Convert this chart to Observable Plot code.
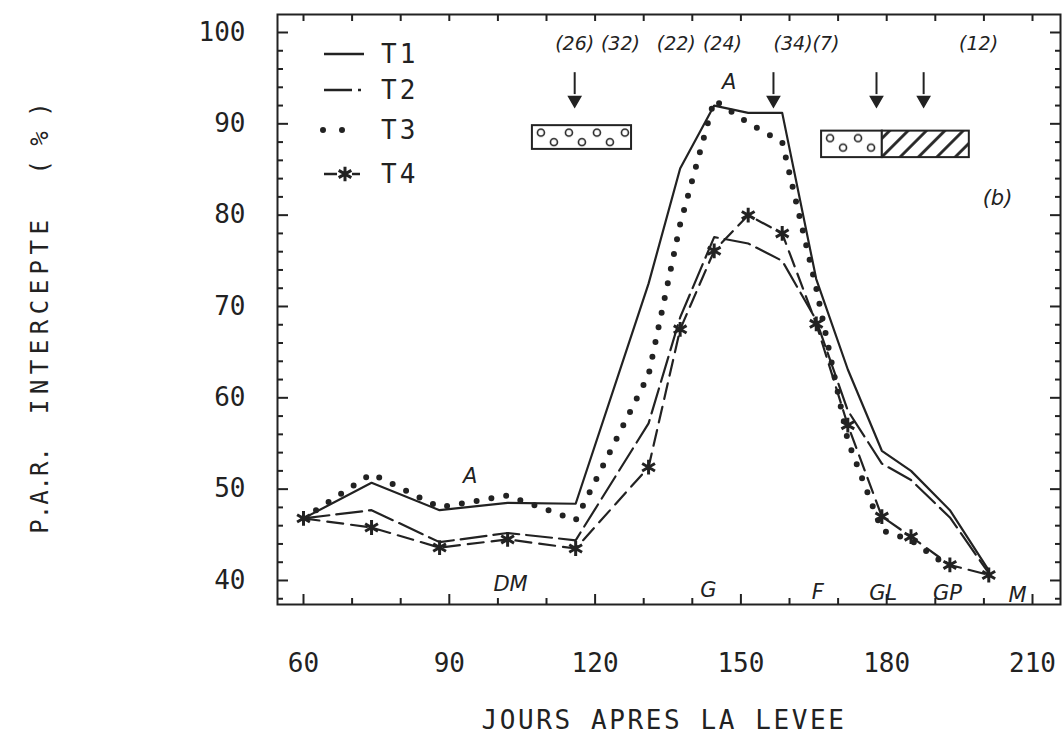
<!DOCTYPE html>
<html>
<head>
<meta charset="utf-8">
<script src="https://cdn.jsdelivr.net/npm/d3@7"></script>
<script src="https://cdn.jsdelivr.net/npm/@observablehq/plot@0.6"></script>
<style>
  html, body { margin: 0; padding: 0; background: #fff; }
  #wrap { position: relative; width: 1062px; height: 746px; overflow: hidden; color: #222;
          font-family: "DejaVu Sans Mono", monospace; }
  #chart { position: absolute; left: 0; top: 0; }
  .ytitle { position: absolute; left: 40px; top: 318px; transform: translate(-50%, -50%) rotate(-90deg);
            white-space: nowrap; font-size: 24px; }
  .xtitle { position: absolute; left: 664px; top: 720px; transform: translate(-50%, -50%);
            white-space: nowrap; font-size: 26px; letter-spacing: 2.6px; }
</style>
</head>
<body>
<div id="wrap">
  <div id="chart"></div>
  <div class="ytitle"><span>P.A.R.</span><span style="margin-left:33px;letter-spacing:5.5px">INTERCEPTE</span><span style="margin-left:40px">(&nbsp;%&nbsp;)</span></div>
  <div class="xtitle">JOURS APRES LA LEVEE</div>
</div>
<script>
// ---------------- data ----------------
const days = [60, 74, 88, 102, 116, 131, 137.5, 144.5, 151.5, 158.5, 165.5, 172, 179, 185, 193, 201];
const T1 = [46.8, 50.7, 47.7, 48.5, 48.4, 72.5, 85.1, 92.0, 91.2, 91.2, 73.0, 63.1, 54.2, 52.0, 47.7, 41.1];
const T2 = [46.8, 47.7, 44.2, 45.2, 44.4, 57.2, 68.8, 77.6, 76.9, 75.0, 68.5, 58.6, 52.8, 51.0, 46.9, 40.8];
const T3 = [46.8, 51.7, 48.0, 49.3, 46.6, 62.5, 79.0, 92.6, 90.1, 88.0, 72.0, 55.3, 45.5, 44.4, 41.4];
const T4 = [46.8, 45.8, 43.6, 44.5, 43.5, 52.4, 67.5, 76.1, 80.0, 78.0, 68.1, 57.0, 47.0, 44.8, 41.7, 40.6];
const seriesNames = ["T1", "T2", "T3", "T4"];

const xTickLabels = [60, 90, 120, 150, 180, 210];
const xMinorTicks = [70, 80, 100, 110, 130, 140, 160, 170, 190, 200];
const xTopTicks = [60, 70, 80, 90, 100, 110, 120, 130, 140, 150, 160, 170, 180, 190, 200, 210];
const yTickLabels = [40, 50, 60, 70, 80, 90, 100];
const yMinorTicks = [38, 42, 44, 46, 48, 52, 54, 56, 58, 62, 64, 66, 68, 72, 74, 76, 78, 82, 84, 86, 88, 92, 94, 96, 98];

// annotations (data units)
const countLabels = ["(26)", "(32)", "(22)", "(24)", "(34)(7)", "(12)"];
const countX = [115.8, 125.2, 136.7, 146.2, 163.5, 198.9];
const countY = 98.8;
const arrowDays = [115.8, 156.7, 177.9, 187.6];
const arrowTop = 95.6, arrowShaftEnd = 93.2, arrowHead = 92.6;
const stageLabels = ["DM", "G", "F", "GL", "GP", "M"];
const stageX = [102.6, 143.3, 165.8, 179.3, 192.5, 206.9];
const stageY = [39.6, 38.9, 38.7, 38.6, 38.6, 38.4];
const noteLabels = ["A", "A", "(b)"];
const noteX = [94.3, 147.6, 202.8];
const noteY = [51.4, 94.6, 81.9];
const boxX1 = [107.1, 166.6, 179.1];
const boxX2 = [127.5, 179.1, 197.0];
const boxY1 = [87.2, 86.3, 86.3];
const boxY2 = [89.8, 89.2, 89.2];
const boxKind = ["circles", "circles", "hatch"];

// ---------------- styles ----------------
const ink = "#222";
const lineStyle = {
  T1: {strokeWidth: 2.2},
  T2: {strokeWidth: 2.2, strokeDasharray: "26,7"},
  T3: {strokeWidth: 6, strokeDasharray: "0,15", strokeLinecap: "round"},
  T4: {strokeWidth: 2.2, strokeDasharray: "16,8"}
};
const seriesValues = {T1, T2, T3, T4};
const rows = [];
for (const name of seriesNames) {
  seriesValues[name].forEach((v, i) => rows.push({series: name, day: days[i], value: v}));
}

const boxes = boxKind.map((k, i) => ({i, kind: k, x1: boxX1[i], x2: boxX2[i], y1: boxY1[i], y2: boxY2[i]}));

const tickAx = {fill: "none", label: null, stroke: ink, strokeWidth: 2};

const plot = Plot.plot({
  width: 1062, height: 746,
  marginTop: 14, marginRight: 2, marginBottom: 142, marginLeft: 277,
  x: {domain: [54.65, 215.76]},
  y: {domain: [37.37, 101.97]},
  style: {fontFamily: "'DejaVu Sans Mono', monospace", fontSize: "26px", color: ink, background: "white", overflow: "visible"},
  marks: [
    // inward tick marks on all four sides
    Plot.axisY(yTickLabels, {...tickAx, anchor: "left", tickSize: -11}),
    Plot.axisY(yMinorTicks, {...tickAx, anchor: "left", tickSize: -6}),
    Plot.axisY(yTickLabels, {...tickAx, anchor: "right", tickSize: -11}),
    Plot.axisY(yMinorTicks, {...tickAx, anchor: "right", tickSize: -6}),
    Plot.axisX(xTickLabels, {...tickAx, anchor: "bottom", tickSize: -10}),
    Plot.axisX(xMinorTicks, {...tickAx, anchor: "bottom", tickSize: -6}),
    Plot.axisX(xTopTicks, {...tickAx, anchor: "top", tickSize: -6}),
    // tick labels
    Plot.axisY(yTickLabels, {anchor: "left", tickSize: 0, tickPadding: 32, fontSize: 26, label: null, fill: ink}),
    Plot.axisX(xTickLabels, {anchor: "bottom", tickSize: 0, tickPadding: 49, fontSize: 26, label: null, fill: ink}),
    Plot.frame({stroke: ink, strokeWidth: 2}),
    // series
    ...seriesNames.map(name => Plot.line(rows.filter(d => d.series === name), {
      x: "day", y: "value", stroke: ink, strokeLinejoin: "round", ...lineStyle[name]
    })),
    Plot.dot(rows.filter(d => d.series === "T4"), {x: "day", y: "value", symbol: "asterisk", r: 7, stroke: ink, strokeWidth: 3}),
    // boxes
    ...boxes.map(b => Plot.rect([b], {x1: "x1", x2: "x2", y1: "y1", y2: "y2",
      fill: b.kind === "hatch" ? "url(#hatch)" : `url(#circ${b.i})`, stroke: ink, strokeWidth: 2})),
    // arrows
    Plot.ruleX(arrowDays, {y1: arrowTop, y2: arrowShaftEnd, stroke: ink, strokeWidth: 2}),
    Plot.dot(arrowDays, {x: d => d, y: arrowHead, symbol: "triangle", rotate: 180, r: 4.5, fill: ink, stroke: ink}),
    // texts
    Plot.text(countLabels, {x: (d, i) => countX[i], y: countY, text: d => d, fontSize: 19, fontStyle: "italic",
      fontFamily: "'DejaVu Sans', sans-serif", fill: ink}),
    Plot.text(noteLabels, {x: (d, i) => noteX[i], y: (d, i) => noteY[i], text: d => d, fontSize: 21, fontStyle: "italic",
      fontFamily: "'DejaVu Sans', sans-serif", fill: ink}),
    Plot.text(stageLabels, {x: (d, i) => stageX[i], y: (d, i) => stageY[i], text: d => d, fontSize: 21, fontStyle: "italic",
      fontFamily: "'DejaVu Sans', sans-serif", fill: ink, letterSpacing: "3px"})
  ]
});

document.getElementById("chart").appendChild(plot);

// patterns for the boxes
const sx = plot.scale("x"), sy = plot.scale("y");
const svg = d3.select(plot);
const defs = svg.insert("defs", ":first-child");
boxes.filter(b => b.kind === "circles").forEach(b => {
  const px = sx.apply(b.x1), py = sy.apply(b.y2);
  const p = defs.append("pattern").attr("id", `circ${b.i}`).attr("patternUnits", "userSpaceOnUse")
    .attr("x", px).attr("y", py).attr("width", 28).attr("height", 60);
  p.append("rect").attr("width", 28).attr("height", 60).attr("fill", "white");
  p.append("circle").attr("cx", 9).attr("cy", 7.5).attr("r", 3.5).attr("fill", "none").attr("stroke", ink).attr("stroke-width", 1.6);
  p.append("circle").attr("cx", 22).attr("cy", 17).attr("r", 3.5).attr("fill", "none").attr("stroke", ink).attr("stroke-width", 1.6);
});
const h = defs.append("pattern").attr("id", "hatch").attr("patternUnits", "userSpaceOnUse")
  .attr("width", 13).attr("height", 13).attr("patternTransform", "rotate(45)");
h.append("rect").attr("width", 13).attr("height", 13).attr("fill", "white");
h.append("line").attr("x1", 6.5).attr("y1", 0).attr("x2", 6.5).attr("y2", 13).attr("stroke", ink).attr("stroke-width", 2.8);

// legend (inside the frame, top-left)
const legendRowY = [54, 90, 130, 174];
const legendX0 = 324, legendX1 = 364, legendTextX = 381;
const lg = svg.append("g").attr("class", "legend").attr("text-anchor", "start");
seriesNames.forEach((name, i) => {
  const y = legendRowY[i];
  const ln = lg.append("line").attr("x1", legendX0).attr("x2", legendX1).attr("y1", y).attr("y2", y)
    .attr("stroke", ink).attr("fill", "none");
  if (name === "T1") ln.attr("stroke-width", 2.5);
  if (name === "T2") ln.attr("stroke-width", 2.5).attr("stroke-dasharray", "28,6,3,20");
  if (name === "T3") ln.attr("stroke-width", 6).attr("stroke-dasharray", "0,19").attr("stroke-linecap", "round").attr("x1", 323).attr("x2", 361);
  if (name === "T4") {
    ln.attr("stroke-width", 2.5).attr("stroke-dasharray", "13,15,8");
    lg.append("path").attr("d", d3.symbol(d3.symbolAsterisk, 150)())
      .attr("transform", `translate(345,${y})`).attr("stroke", ink).attr("stroke-width", 3).attr("fill", "none");
  }
  lg.append("text").attr("x", legendTextX).attr("y", y).attr("dy", "0.35em").attr("text-anchor", "start")
    .attr("fill", ink).attr("font-size", 26).attr("letter-spacing", "3px").text(name);
});
</script>
</body>
</html>
